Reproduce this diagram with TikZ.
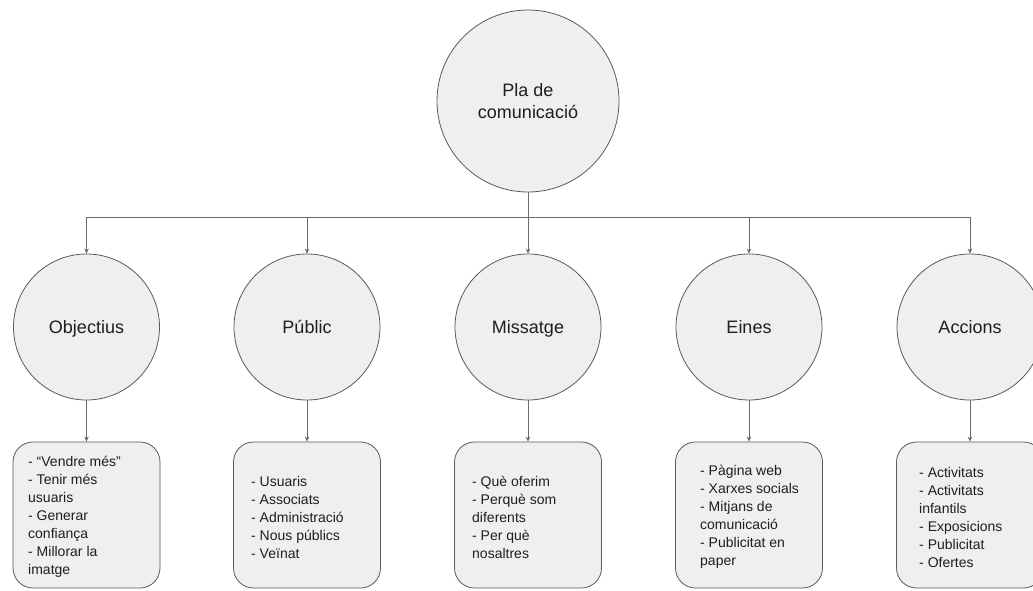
\documentclass[tikz,border=0pt]{standalone}
\usepackage{fontspec}
\setmainfont{Liberation Sans}
\usetikzlibrary{arrows.meta}
\definecolor{fillg}{HTML}{EFEFEF}
\definecolor{lineg}{HTML}{5A5A5A}
\definecolor{conng}{HTML}{6A6A6A}
\definecolor{txt}{HTML}{1E1E1E}
\begin{document}
\begin{tikzpicture}[x=1pt,y=-1pt,
  bigcirc/.style={circle,draw=lineg,fill=fillg,line width=0.8pt,minimum size=182pt,inner sep=0pt,
    text=txt,align=center,font=\fontsize{18}{21.5}\selectfont},
  midcirc/.style={circle,draw=lineg,fill=fillg,line width=0.8pt,minimum size=146pt,inner sep=0pt,
    text=txt,text height=13pt,text depth=0pt,font=\fontsize{18}{21.5}\selectfont},
  listbox/.style={rectangle,rounded corners=20pt,draw=lineg,fill=fillg,line width=0.8pt,
    minimum width=147pt,minimum height=146pt,inner sep=0pt},
  listtext/.style={anchor=west,align=left,inner sep=0pt,text=txt,font=\fontsize{14}{18}\selectfont},
  conn/.style={draw=conng,line width=0.8pt},
  arr/.style={conn,-{Stealth[length=5pt,width=4.5pt]}}
]
\useasboundingbox (0,0) rectangle (1033,591);
\clip (0,0) rectangle (1033,591);
\fill[white] (0,0) rectangle (1033,591);

% top node
\node[bigcirc] (top) at (528,101) {Pla de\\comunicació};

% second row
\node[midcirc] (obj) at (86.5,327) {Objectius};
\node[midcirc] (pub) at (307,327) {Públic};
\node[midcirc] (mis) at (528,327) {Missatge};
\node[midcirc] (ein) at (749,327) {Eines};
\node[midcirc] (acc) at (970,327) {Accions};

% boxes
\node[listbox] (bobj) at (86.5,515) {};
\node[listbox] (bpub) at (307,515) {};
\node[listbox] (bmis) at (528,515) {};
\node[listbox] (bein) at (749,515) {};
\node[listbox] (bacc) at (970,515) {};

\node[listtext] (tobj) at (28,517) {- “Vendre més”\\- Tenir més\\usuaris\\- Generar\\confiança\\- Millorar la\\imatge};
\node[listtext] (tpub) at (251,517) {- Usuaris\\- Associats\\- Administració\\- Nous públics\\- Veïnat};
\node[listtext] (tmis) at (472,517) {- Què oferim\\- Perquè som\\diferents\\- Per què\\nosaltres};
\node[listtext] (tein) at (700,517) {- Pàgina web\\- Xarxes socials\\- Mitjans de\\comunicació\\- Publicitat en\\paper};
\node[listtext] (tacc) at (919,517) {- Activitats\\- Activitats\\infantils\\- Exposicions\\- Publicitat\\- Ofertes};

% connectors
\coordinate (barL) at (86.5,217);
\coordinate (barR) at (970,217);
\draw[conn] (barL) -- (barR);
\draw[arr] (top.south) -- (mis.north);
\draw[arr] (barL) -- (obj.north);
\draw[arr] (pub.north |- barL) -- (pub.north);
\draw[arr] (ein.north |- barL) -- (ein.north);
\draw[arr] (barR) -- (acc.north);

\draw[arr] (obj.south) -- (bobj.north);
\draw[arr] (pub.south) -- (bpub.north);
\draw[arr] (mis.south) -- (bmis.north);
\draw[arr] (ein.south) -- (bein.north);
\draw[arr] (acc.south) -- (bacc.north);
\end{tikzpicture}
\end{document}
